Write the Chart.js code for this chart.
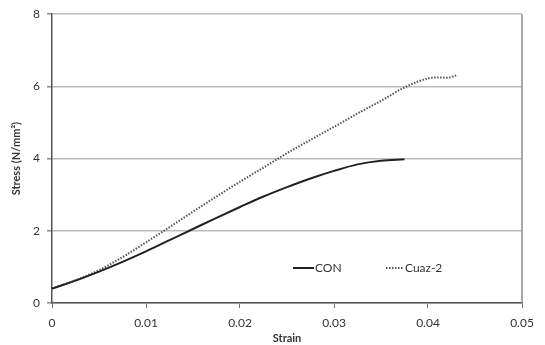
<!DOCTYPE html>
<html>
<head>
<meta charset="utf-8">
<script src="https://cdn.jsdelivr.net/npm/chart.js@4/dist/chart.umd.min.js"></script>
<style>
  html, body { margin: 0; padding: 0; background: #fff; }
  #wrap { width: 545px; height: 345px; }
</style>
</head>
<body>
<div id="wrap"><canvas id="myChart"></canvas></div>
<script>
const ctx = document.getElementById("myChart").getContext("2d");

// strain values and stress readings (N/mm2)
var conStrain = [0, 0.0025, 0.005, 0.0075, 0.01, 0.0125, 0.015, 0.0175, 0.02, 0.0225, 0.025, 0.0275, 0.03, 0.0325, 0.035, 0.0375];
var conStress = [0.4, 0.62, 0.87, 1.14, 1.43, 1.74, 2.05, 2.36, 2.66, 2.95, 3.21, 3.45, 3.66, 3.84, 3.94, 3.98];

var cuazStrain = [0, 0.0025, 0.005, 0.0075, 0.01, 0.0125, 0.015, 0.0175, 0.02, 0.0225, 0.025, 0.0275, 0.03, 0.0325, 0.035, 0.0375, 0.04, 0.041, 0.042, 0.043];
var cuazStress = [0.4, 0.63, 0.91, 1.27, 1.68, 2.1, 2.53, 2.95, 3.36, 3.75, 4.15, 4.52, 4.88, 5.25, 5.6, 5.97, 6.22, 6.25, 6.24, 6.3];

var seriesNames = ["CON", "Cuaz-2"];
var xTitle = "Strain";
var yTitle = "Stress (N/mm\u00B2)";

function toPoints(xs, ys) {
  return xs.map(function (x, i) { return { x: x, y: ys[i] }; });
}

const FONT = "Lato, 'Open Sans', sans-serif";

// legend inside the plot area + right border of plot
const extras = {
  id: "extras",
  afterDraw: function (chart) {
    const c = chart.ctx;
    const a = chart.chartArea;
    c.save();
    c.strokeStyle = "#8c8c8c";
    c.lineWidth = 1.5;
    c.beginPath();
    c.moveTo(a.right, a.top);
    c.lineTo(a.right, a.bottom);
    c.stroke();

    const ly = 268;
    c.font = "12px " + FONT;
    c.textBaseline = "middle";
    c.fillStyle = "#333";
    // CON
    c.strokeStyle = "#222";
    c.lineWidth = 2;
    c.setLineDash([]);
    c.beginPath();
    c.moveTo(293, ly);
    c.lineTo(314, ly);
    c.stroke();
    c.fillText(seriesNames[0], 315, ly);
    // Cuaz-2
    c.strokeStyle = "#555";
    c.setLineDash([1.5, 1.5]);
    c.beginPath();
    c.moveTo(386, ly);
    c.lineTo(404, ly);
    c.stroke();
    c.setLineDash([]);
    c.fillText(seriesNames[1], 405, ly);
    c.restore();
  },
};

const lineChart = new Chart(ctx, {
  type: "scatter",
  data: {
    datasets: [
      {
        label: seriesNames[0],
        data: toPoints(conStrain, conStress),
        showLine: true,
        borderColor: "#222",
        borderWidth: 2,
        pointRadius: 0,
        cubicInterpolationMode: "monotone",
        fill: false,
      },
      {
        label: seriesNames[1],
        data: toPoints(cuazStrain, cuazStress),
        showLine: true,
        borderColor: "#555",
        borderWidth: 2,
        borderDash: [1.5, 1.5],
        pointRadius: 0,
        cubicInterpolationMode: "monotone",
        fill: false,
      },
    ],
  },
  options: {
    responsive: true,
    maintainAspectRatio: false,
    animation: false,
    layout: { padding: { top: 13, right: 23, left: 0, bottom: 0 } },
    plugins: {
      legend: { display: false },
      tooltip: { enabled: false },
    },
    scales: {
      x: {
        type: "linear",
        min: 0,
        max: 0.05,
        ticks: {
          stepSize: 0.01,
          padding: 8,
          color: "#333",
          font: { family: FONT, size: 12 },
          callback: function (v) { return String(Number(v.toFixed(2))); },
        },
        grid: { display: true, drawOnChartArea: false, tickLength: 5, color: "#777" },
        border: { color: "#555", width: 1.5 },
        title: {
          display: true,
          text: xTitle,
          color: "#333",
          font: { family: FONT, size: 11, weight: "bold" },
          padding: { top: -3, bottom: 0 },
        },
        afterFit: function (s) { s.height = 42; },
      },
      y: {
        min: 0,
        max: 8,
        ticks: {
          stepSize: 2,
          padding: 7,
          color: "#333",
          font: { family: FONT, size: 12 },
        },
        grid: { color: "#bdbdbd", lineWidth: 1.5, tickLength: 5, tickColor: "#888" },
        border: { color: "#555", width: 1.5 },
        title: {
          display: true,
          text: yTitle,
          color: "#333",
          font: { family: FONT, size: 11, weight: "bold" },
          padding: { top: 10, bottom: 0 },
        },
        afterFit: function (s) { s.width = 52; },
      },
    },
  },
  plugins: [extras],
});
</script>
</body>
</html>
